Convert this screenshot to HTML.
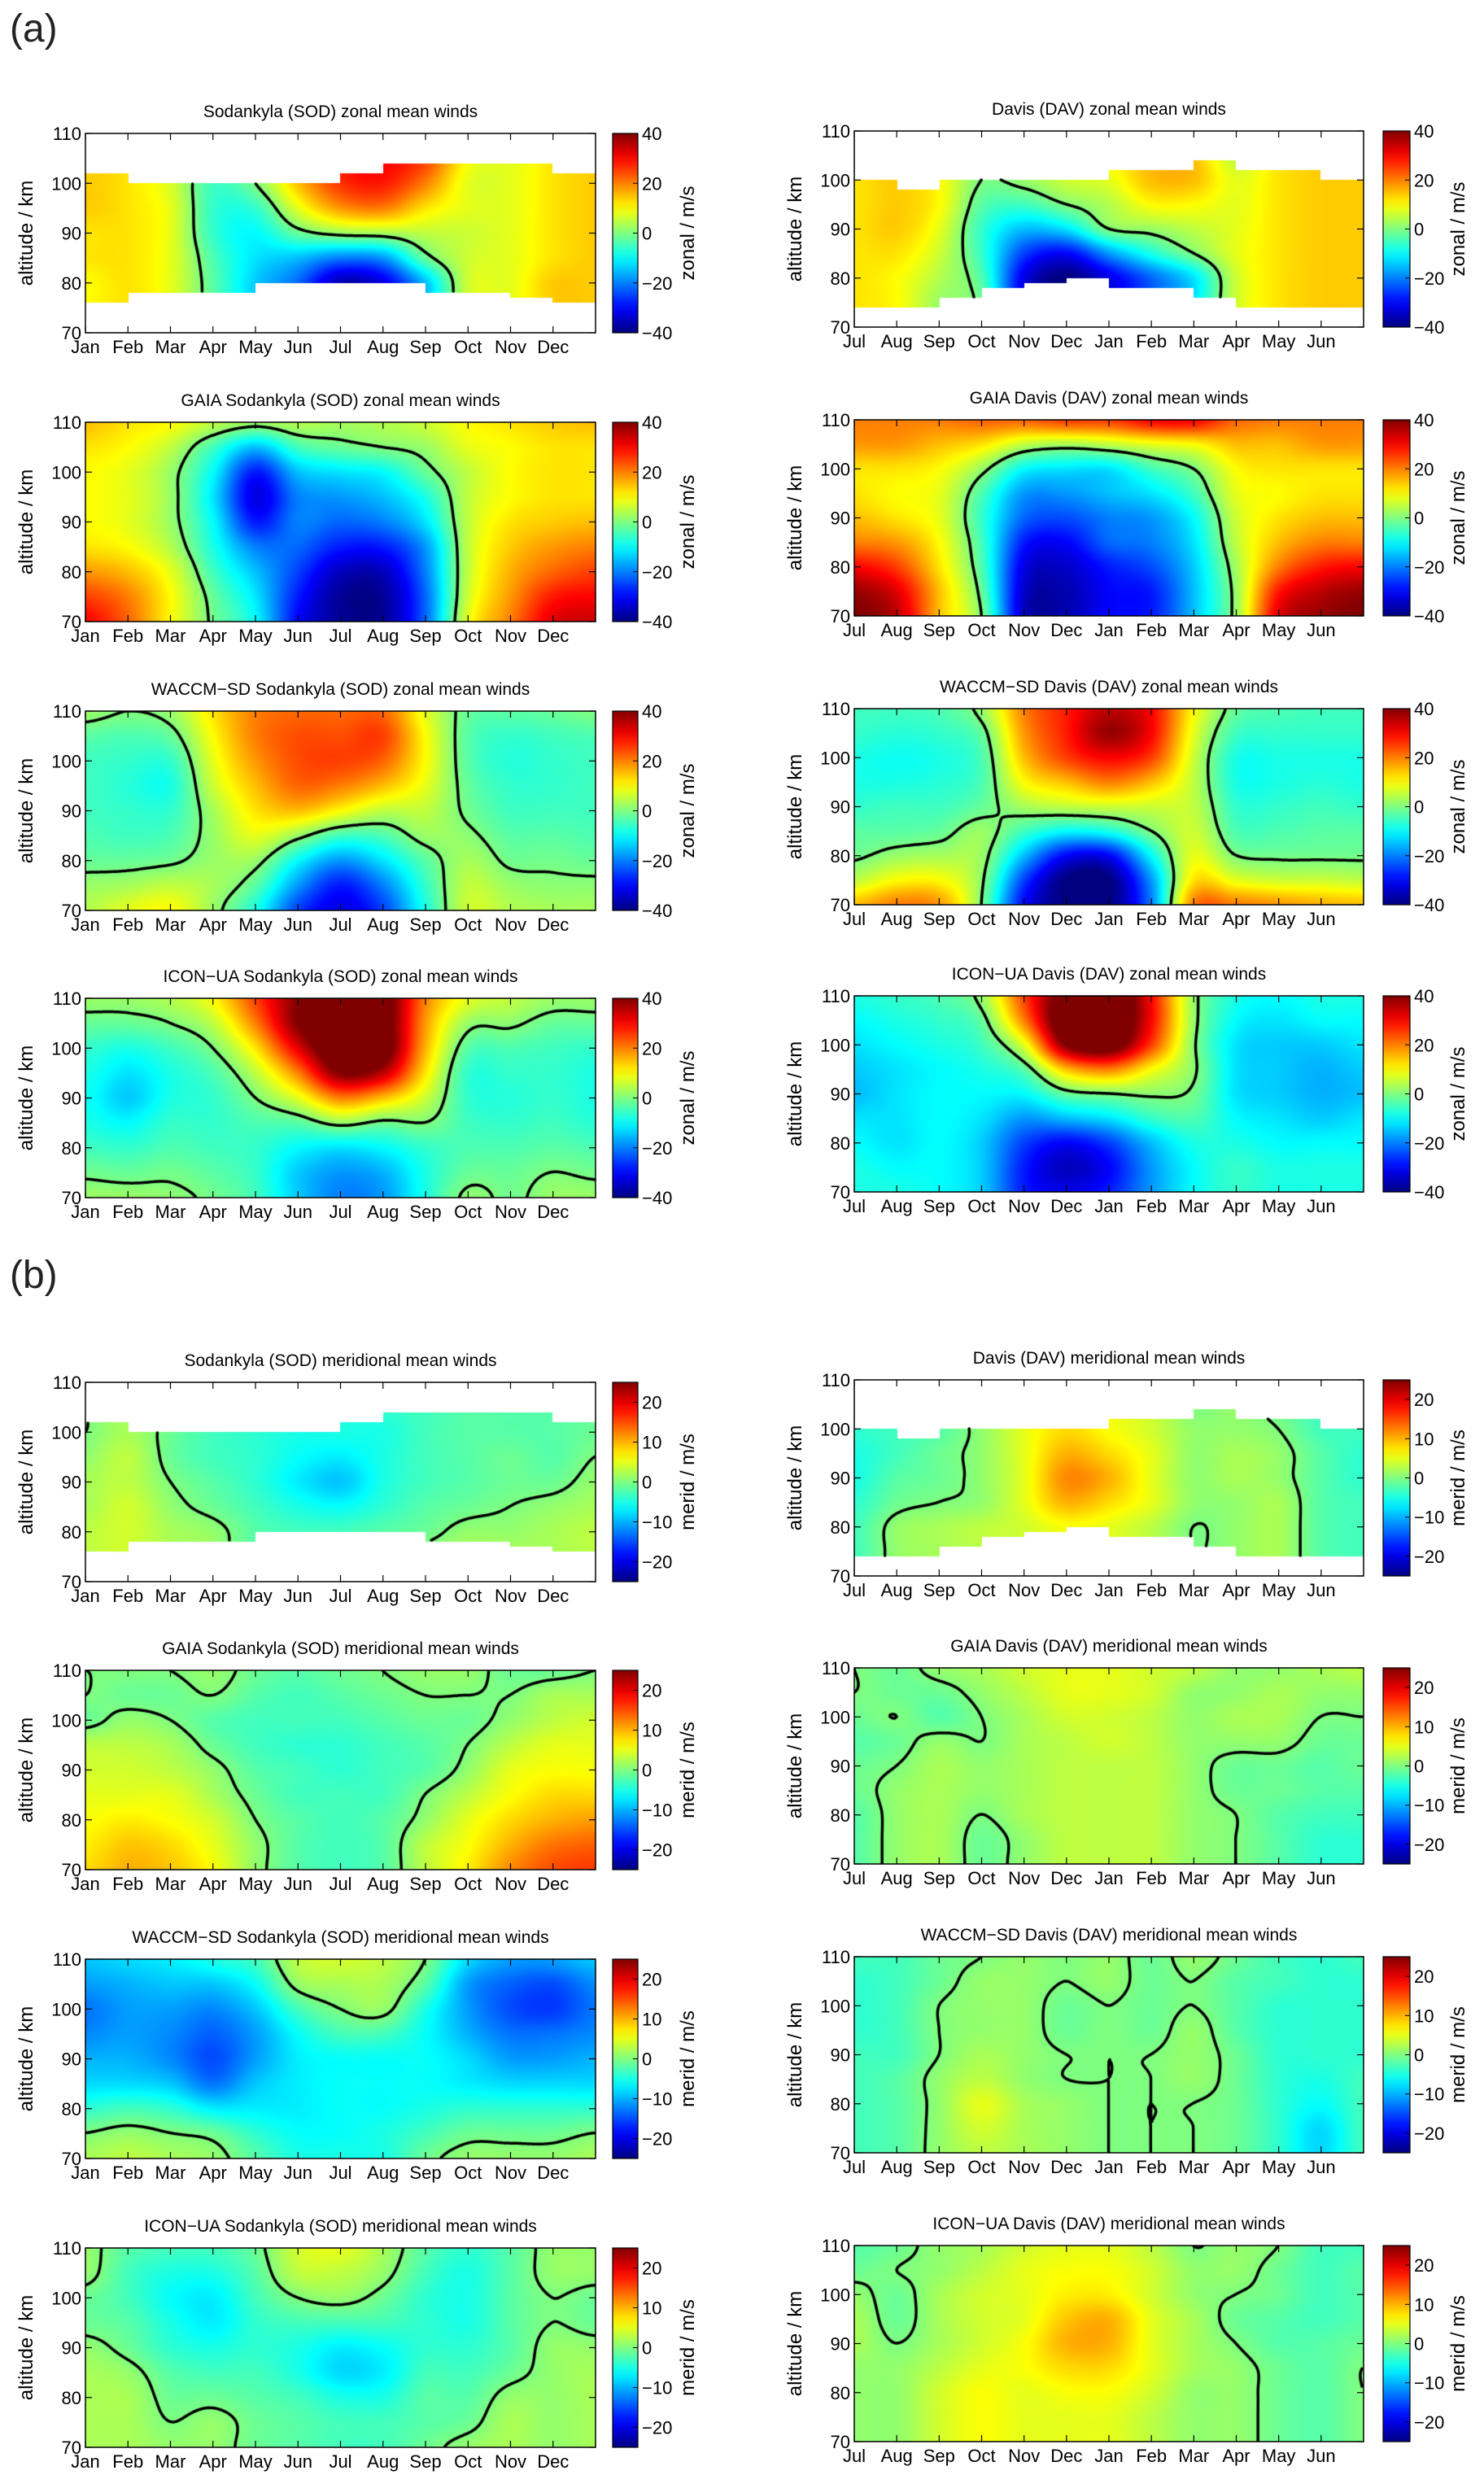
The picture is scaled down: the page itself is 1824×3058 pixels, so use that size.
<!DOCTYPE html>
<html><head><meta charset="utf-8">
<style>
html,body{margin:0;padding:0;background:#fff;}
#page{position:relative;width:1824px;height:3058px;overflow:hidden;background:#fff;font-family:"Liberation Sans",sans-serif;}
canvas{position:absolute;}
#ov{position:absolute;left:0;top:0;}
.lab{position:absolute;font-size:48px;color:#222;}
</style></head>
<body>
<div id="page">
<div class="lab" style="left:12px;top:8px">(a)</div>
<div class="lab" style="left:12px;top:1540px">(b)</div>
<svg id="ov" width="1824" height="3058" xmlns="http://www.w3.org/2000/svg"></svg>
</div>
<script>
// ---- data: columns = month boundaries (13), values top(110km) -> bottom(70km) every 5 km ----
const monthsSOD=["Jan","Feb","Mar","Apr","May","Jun","Jul","Aug","Sep","Oct","Nov","Dec"];
const monthsDAV=["Jul","Aug","Sep","Oct","Nov","Dec","Jan","Feb","Mar","Apr","May","Jun"];
const altTicks=[70,80,90,100,110];
const zonalTicks=[40,20,0,-20,-40];
const meridTicks=[20,10,0,-10,-20];

const sodZonalObs=[[14,14,14,14,12,12,10,10,10],[12,12,12,12,12,12,12,12,12],[8,8,7,8,8,8,8,8,8],[-3,-3,-5,-6,-6,-4,-3,-3,-3],[2,2,0,-6,-10,-12,-14,-14,-14],[18,18,15,8,-2,-15,-22,-22,-22],[28,28,26,18,2,-20,-36,-36,-36],[30,30,28,20,3,-18,-32,-32,-32],[25,25,20,12,5,-2,-15,-15,-15],[10,10,8,8,6,6,6,6,6],[8,8,8,8,8,8,8,8,8],[12,12,12,12,12,12,14,14,14],[14,14,14,14,14,14,14,14,14]];
const sodTop=[102,100,100,100,100,100,102,104,104,104,104,102];
const sodBot=[76,78,78,78,80,80,80,80,78,78,77,76];
const davZonalObs=[[12,12,12,12,12,12,12,12,12],[14,14,14,14,14,12,10,10,10],[10,10,10,10,8,6,4,2,2],[0,0,0,-3,-6,-6,-4,-2,-2],[5,5,2,-5,-15,-25,-32,-32,-32],[8,8,6,0,-12,-30,-40,-40,-40],[10,10,8,4,0,-18,-32,-32,-32],[15,15,15,10,2,-8,-22,-22,-22],[15,15,15,10,5,0,-12,-12,-12],[5,5,8,8,8,8,6,6,6],[12,12,12,12,12,12,12,12,12],[14,14,14,14,14,14,14,14,14],[14,14,14,14,14,14,14,14,14]];
const davTop=[100,98,100,100,100,100,102,102,104,102,102,100];
const davBot=[74,74,76,78,79,80,78,78,76,74,74,74];
const gaiaSodZonal=[[15,12,10,10,10,12,18,25,30],[12,10,8,8,8,10,15,20,22],[10,5,2,2,2,4,8,10,10],[5,-5,-10,-12,-10,-8,-5,-2,-1],[2,-15,-28,-32,-28,-20,-15,-12,-10],[4,-5,-15,-20,-20,-22,-25,-28,-30],[3,-2,-12,-18,-22,-28,-35,-38,-38],[4,0,-10,-15,-20,-28,-35,-38,-38],[6,2,-2,-8,-12,-18,-20,-22,-22],[10,8,5,5,5,5,5,6,8],[12,10,10,10,12,14,16,18,20],[14,12,12,12,14,18,22,28,32],[15,12,12,12,15,20,25,30,34]];
const gaiaDavZonal=[[20,18,12,12,15,20,30,38,40],[20,18,12,10,12,18,25,32,35],[20,15,10,8,8,10,12,15,15],[22,12,2,-4,-6,-5,-4,-2,0],[22,5,-10,-18,-22,-28,-32,-34,-35],[25,3,-12,-18,-24,-30,-34,-36,-36],[25,5,-12,-15,-20,-22,-28,-30,-30],[30,8,-5,-12,-18,-20,-24,-28,-28],[30,10,0,-5,-10,-12,-14,-15,-15],[22,15,10,8,6,5,3,2,2],[20,15,12,10,12,15,20,28,32],[20,18,12,12,15,20,28,35,38],[20,18,12,12,15,20,30,38,40]];
const waccmSodZonal=[[2,-3,-5,-5,-5,-4,-2,2,4],[0,-4,-6,-7,-6,-5,-2,3,8],[2,-2,-6,-8,-6,-4,-1,5,10],[12,10,8,6,3,2,2,3,2],[20,20,18,15,12,8,2,-3,-8],[22,24,24,22,15,2,-10,-18,-25],[22,24,25,20,10,-5,-18,-28,-32],[22,25,22,15,5,-4,-12,-20,-25],[8,10,10,8,5,2,-3,-6,-8],[-2,-3,-3,-2,-1,1,3,5,6],[-3,-6,-7,-6,-5,-3,-1,2,4],[-2,-5,-6,-6,-5,-3,-1,1,3],[0,-4,-5,-5,-5,-4,-2,1,3]];
const waccmDavZonal=[[-5,-6,-8,-8,-6,-3,-1,5,15],[-5,-7,-9,-8,-5,-3,2,10,20],[-4,-6,-8,-7,-5,-2,3,10,18],[2,-2,-4,-4,-2,2,2,1,0],[20,18,15,10,3,-5,-15,-25,-30],[28,28,25,15,5,-10,-30,-40,-40],[35,38,30,20,6,-8,-30,-40,-40],[30,30,25,15,6,0,-10,-18,-20],[10,8,6,5,5,6,8,12,20],[-2,-5,-8,-8,-6,-4,0,8,20],[-4,-6,-8,-8,-6,-4,-1,6,18],[-5,-6,-8,-7,-5,-3,-1,6,16],[-5,-6,-8,-8,-6,-3,-1,5,15]];
const iconSodZonal=[[2,-2,-6,-8,-9,-8,-5,-1,2],[2,-2,-8,-12,-14,-10,-6,-2,2],[4,0,-5,-8,-8,-6,-4,-1,1],[10,5,0,-4,-6,-6,-5,-3,-1],[25,20,12,5,0,-4,-6,-6,-5],[40,40,32,20,8,-3,-10,-14,-14],[50,50,48,40,20,2,-12,-18,-20],[45,45,45,35,15,-1,-10,-16,-18],[20,18,16,12,6,0,-6,-8,-8],[8,2,-3,-6,-6,-5,-4,-2,1],[5,1,-4,-6,-7,-6,-4,-2,-1],[2,-2,-5,-6,-6,-5,-3,0,2],[2,-2,-6,-8,-8,-7,-4,-1,2]];
const iconDavZonal=[[-8,-10,-12,-14,-15,-12,-10,-8,-8],[-6,-8,-10,-12,-12,-12,-12,-10,-8],[-4,-6,-8,-10,-10,-10,-10,-10,-10],[2,-2,-5,-8,-10,-12,-14,-14,-14],[25,20,8,-3,-10,-18,-25,-28,-28],[45,48,40,15,-2,-15,-30,-35,-32],[50,50,45,20,0,-12,-25,-30,-28],[30,30,25,10,1,-6,-15,-18,-18],[2,2,1,1,-1,-4,-8,-10,-10],[-8,-10,-12,-12,-12,-10,-8,-6,-6],[-10,-12,-14,-14,-14,-12,-10,-8,-8],[-8,-10,-14,-16,-16,-14,-10,-8,-8],[-8,-10,-12,-14,-15,-12,-10,-8,-8]];
const sodMeridObs=[[0,0,0,1,2,2,3,3,3],[2,2,2,3,3,4,4,4,4],[0,0,-1,-1,0,1,2,2,2],[-2,-2,-3,-3,-2,-1,1,1,1],[-3,-3,-4,-4,-4,-3,-2,-2,-2],[-4,-4,-5,-6,-7,-5,-3,-3,-3],[-5,-5,-5,-7,-9,-6,-3,-3,-3],[-4,-4,-5,-5,-5,-4,-2,-2,-2],[-3,-3,-3,-3,-3,-2,-1,1,1],[-2,-2,-2,-2,-2,-1,1,2,2],[-2,-2,-2,-1,-1,0,1,2,2],[-2,-2,-2,-2,-1,1,2,2,2],[-1,-1,-1,0,1,2,3,3,3]];
const davMeridObs=[[-4,-4,-4,-5,-5,-4,-3,-3,-3],[-3,-3,-3,-3,-2,-1,1,1,1],[-2,-2,-2,-1,-1,0,2,2,2],[2,2,1,1,1,1,3,3,3],[5,5,5,5,5,5,4,4,4],[8,8,8,10,12,10,6,5,5],[6,6,6,8,10,8,5,5,5],[4,4,4,5,5,5,3,3,3],[0,0,1,1,1,1,0,0,0],[1,1,1,2,2,1,1,1,1],[-1,-1,0,1,1,2,2,2,2],[-3,-3,-3,-2,-2,-2,-2,-2,-2],[-3,-3,-3,-4,-4,-3,-3,-3,-3]];
const gaiaSodMerid=[[0,0,-1,3,4,5,6,7,8],[0,-1,1,3,4,5,7,9,10],[0,-1,0,2,3,5,6,8,9],[1,0,-2,-1,1,2,4,5,6],[-1,-2,-3,-3,-2,-1,0,1,1],[-2,-3,-3,-4,-3,-3,-2,-2,-2],[-1,-2,-3,-4,-4,-3,-3,-3,-3],[0,-1,-2,-3,-3,-3,-2,-2,-2],[1,0,-1,-2,-2,0,1,3,3],[1,0,-1,0,1,3,5,6,7],[-1,0,1,3,5,6,8,10,12],[-1,2,3,5,6,8,10,13,15],[0,2,4,5,6,8,11,14,16]];
const gaiaDavMerid=[[0,0,-1,-2,-1,-1,-2,-2,-2],[-1,-1,0,-1,0,1,1,1,1],[1,-1,-2,1,2,2,2,2,2],[2,1,0,0,1,1,0,-1,-1],[4,3,2,2,2,2,2,1,1],[5,5,4,3,3,3,3,3,3],[5,5,4,4,3,3,3,3,3],[4,4,3,3,3,3,3,3,3],[3,1,1,1,1,1,1,1,1],[1,1,2,1,-1,-1,0,0,0],[1,2,2,1,-1,-1,-2,-2,-2],[2,1,0,-1,-2,-2,-3,-4,-4],[3,1,0,-1,-1,-2,-3,-4,-4]];
const waccmSodMerid=[[-9,-11,-13,-12,-10,-8,-4,0,2],[-8,-10,-11,-11,-10,-8,-3,1,3],[-7,-9,-11,-12,-12,-9,-4,0,2],[-5,-9,-12,-14,-15,-13,-7,-1,1],[-3,-6,-9,-11,-11,-9,-7,-4,-2],[3,1,-3,-6,-7,-7,-7,-6,-5],[4,2,0,-3,-6,-6,-6,-6,-5],[3,2,1,-3,-6,-6,-6,-5,-5],[0,-2,-5,-6,-6,-6,-5,-3,-1],[-8,-11,-11,-10,-8,-7,-4,-1,1],[-11,-14,-15,-13,-11,-8,-4,-1,1],[-11,-15,-16,-13,-11,-8,-4,-1,1],[-9,-12,-13,-12,-10,-8,-4,0,2]];
const waccmDavMerid=[[-3,-4,-4,-4,-3,-3,-3,-3,-3],[-3,-3,-3,-3,-3,-2,-2,-2,-2],[-1,-1,0,0,0,1,1,1,1],[0,1,1,1,2,3,5,4,3],[1,1,1,1,1,1,2,2,2],[0,0,-1,-1,0,0,1,1,1],[1,1,0,0,0,0,0,0,0],[-1,-1,-1,-1,0,0,0,0,0],[1,0,0,1,1,1,0,0,0],[-1,-2,-2,-2,-1,-1,-1,-1,-1],[-3,-3,-4,-4,-4,-4,-4,-4,-4],[-4,-4,-4,-4,-4,-5,-6,-8,-8],[-3,-4,-4,-4,-4,-3,-3,-3,-3]];
const iconSodMerid=[[1,1,-1,-1,1,2,2,2,2],[-2,-3,-3,-2,-1,1,2,2,2],[-3,-5,-6,-5,-4,-2,-1,0,1],[-3,-5,-7,-7,-5,-3,-1,1,1],[-1,-2,-3,-4,-4,-3,-2,-1,-1],[4,3,0,-3,-5,-5,-3,-2,-2],[5,3,1,-3,-7,-8,-5,-3,-3],[2,1,-1,-3,-6,-7,-5,-3,-3],[-2,-3,-4,-4,-4,-3,-2,-2,-1],[-4,-5,-5,-5,-4,-3,-2,-1,1],[-2,-2,-2,-2,-2,-1,1,2,2],[1,1,0,0,1,1,1,1,1],[1,1,-1,-1,1,2,2,2,2]];
const iconDavMerid=[[-2,-1,1,2,2,1,1,1,1],[-1,0,-1,-1,0,1,1,1,1],[1,1,2,2,2,3,4,4,4],[2,3,4,4,4,5,6,6,6],[4,5,5,5,6,6,5,5,5],[5,6,7,9,10,8,6,5,5],[5,6,7,10,10,8,6,5,5],[3,4,4,5,5,5,4,3,3],[0,1,1,2,2,2,1,1,1],[1,1,0,-1,0,1,1,1,1],[0,-1,-1,-2,-2,-1,-1,-1,-1],[-3,-3,-3,-3,-2,-2,-2,-2,-2],[-3,-2,-2,-2,-1,0,0,0,0]];

const leftTops=[164,519,874,1227,1699,2053,2408,2763];
const panels=[
 {g:sodZonalObs,t:"Sodankyla (SOD) zonal mean winds",side:0,row:0,z:1,top:sodTop,bot:sodBot,n:"sod-zonal-obs"},
 {g:davZonalObs,t:"Davis (DAV) zonal mean winds",side:1,row:0,z:1,top:davTop,bot:davBot,n:"dav-zonal-obs"},
 {g:gaiaSodZonal,t:"GAIA Sodankyla (SOD) zonal mean winds",side:0,row:1,z:1,n:"gaia-sod-zonal"},
 {g:gaiaDavZonal,t:"GAIA Davis (DAV) zonal mean winds",side:1,row:1,z:1,n:"gaia-dav-zonal"},
 {g:waccmSodZonal,t:"WACCM\u2212SD Sodankyla (SOD) zonal mean winds",side:0,row:2,z:1,n:"waccm-sod-zonal"},
 {g:waccmDavZonal,t:"WACCM\u2212SD Davis (DAV) zonal mean winds",side:1,row:2,z:1,n:"waccm-dav-zonal"},
 {g:iconSodZonal,t:"ICON\u2212UA Sodankyla (SOD) zonal mean winds",side:0,row:3,z:1,n:"icon-sod-zonal"},
 {g:iconDavZonal,t:"ICON\u2212UA Davis (DAV) zonal mean winds",side:1,row:3,z:1,n:"icon-dav-zonal"},
 {g:sodMeridObs,t:"Sodankyla (SOD) meridional mean winds",side:0,row:4,z:0,top:sodTop,bot:sodBot,n:"sod-merid-obs"},
 {g:davMeridObs,t:"Davis (DAV) meridional mean winds",side:1,row:4,z:0,top:davTop,bot:davBot,n:"dav-merid-obs"},
 {g:gaiaSodMerid,t:"GAIA Sodankyla (SOD) meridional mean winds",side:0,row:5,z:0,n:"gaia-sod-merid"},
 {g:gaiaDavMerid,t:"GAIA Davis (DAV) meridional mean winds",side:1,row:5,z:0,n:"gaia-dav-merid"},
 {g:waccmSodMerid,t:"WACCM\u2212SD Sodankyla (SOD) meridional mean winds",side:0,row:6,z:0,n:"waccm-sod-merid"},
 {g:waccmDavMerid,t:"WACCM\u2212SD Davis (DAV) meridional mean winds",side:1,row:6,z:0,n:"waccm-dav-merid"},
 {g:iconSodMerid,t:"ICON\u2212UA Sodankyla (SOD) meridional mean winds",side:0,row:7,z:0,n:"icon-sod-merid"},
 {g:iconDavMerid,t:"ICON\u2212UA Davis (DAV) meridional mean winds",side:1,row:7,z:0,n:"icon-dav-merid"}
];

function jet(t){t=Math.max(0,Math.min(1,t));const c=v=>Math.round(255*Math.max(0,Math.min(1,v)));
 return [c(1.5-Math.abs(4*t-3)),c(1.5-Math.abs(4*t-2)),c(1.5-Math.abs(4*t-1))];}
function cr(p0,p1,p2,p3,t){return 0.5*(2*p1+(-p0+p2)*t+(2*p0-5*p1+4*p2-p3)*t*t+(-p0+3*p1-3*p2+p3)*t*t*t);}
function sample(g,cx,ry){
 const nc=g.length,nr=g[0].length;
 let i=Math.min(Math.floor(cx),nc-2),j=Math.min(Math.floor(ry),nr-2);
 const tx=cx-i,ty=ry-j,col=[];
 for(let m=-1;m<=2;m++){const ci=Math.max(0,Math.min(nc-1,i+m));const a=g[ci];
  const r=k=>a[Math.max(0,Math.min(nr-1,k))];
  col.push(cr(r(j-1),r(j),r(j+1),r(j+2),ty));}
 return cr(col[0],col[1],col[2],col[3],tx);
}
const NS="http://www.w3.org/2000/svg";
const svg=document.getElementById('ov');
const page=document.getElementById('page');
function el(tag,attrs,txt){const e=document.createElementNS(NS,tag);for(const k in attrs)e.setAttribute(k,attrs[k]);if(txt!==undefined)e.textContent=txt;svg.appendChild(e);return e;}

const defs=el('defs',{});
const grad=document.createElementNS(NS,'linearGradient');
grad.setAttribute('id','jetg');grad.setAttribute('x1','0');grad.setAttribute('y1','1');grad.setAttribute('x2','0');grad.setAttribute('y2','0');
for(let s=0;s<=20;s++){const c=jet(s/20);const st=document.createElementNS(NS,'stop');st.setAttribute('offset',s/20);st.setAttribute('stop-color',`rgb(${c})`);grad.appendChild(st);}
defs.appendChild(grad);

panels.forEach(p=>{
 const x0=p.side?1050:105, w=p.side?626:627;
 const y0=leftTops[p.row]-(p.side?3:0), h=p.side?241:245;
 const vmax=p.z?40:25;
 const cv=document.createElement('canvas');
 cv.width=w;cv.height=h;cv.style.left=x0+'px';cv.style.top=y0+'px';
 
 
 page.insertBefore(cv,svg);
 const ctx=cv.getContext('2d');const img=ctx.createImageData(w,h);
 const inside=(cx,alt)=>{if(!p.top)return true;const s=Math.max(0,Math.min(11,Math.floor(cx)));return alt<=p.top[s]&&alt>=p.bot[s];};
 for(let py=0;py<h;py++){const ry=py/(h-1)*8, alt=110-py/(h-1)*40;
  for(let px=0;px<w;px++){const cx=px/(w-1)*12;const k=(py*w+px)*4;
   if(!inside(cx,alt)){img.data[k]=img.data[k+1]=img.data[k+2]=255;img.data[k+3]=255;continue;}
   let v=sample(p.g,cx,ry);const c=jet((v+vmax)/(2*vmax));
   img.data[k]=c[0];img.data[k+1]=c[1];img.data[k+2]=c[2];img.data[k+3]=255;}}
 ctx.putImageData(img,0,0);
 const st=2,nx=Math.floor((w-1)/st)+1,ny=Math.floor((h-1)/st)+1,V=[];
 for(let j=0;j<ny;j++){V.push([]);for(let i=0;i<nx;i++){const px=i*st,py=j*st;V[j].push(sample(p.g,px/(w-1)*12,py/(h-1)*8));}}
 ctx.strokeStyle='#000';ctx.lineWidth=3.5;ctx.lineCap='round';ctx.beginPath();
 for(let j=0;j<ny-1;j++)for(let i=0;i<nx-1;i++){
  const X=i*st,Y=j*st;
  if(!inside(X/(w-1)*12,110-Y/(h-1)*40)||!inside((X+st)/(w-1)*12,110-(Y+st)/(h-1)*40))continue;
  const tl=V[j][i],tr=V[j][i+1],br=V[j+1][i+1],bl=V[j+1][i];
  const idx=(tl>0?8:0)|(tr>0?4:0)|(br>0?2:0)|(bl>0?1:0);
  if(idx===0||idx===15)continue;
  const E=[[X+st*tl/(tl-tr),Y],[X+st,Y+st*tr/(tr-br)],[X+st*bl/(bl-br),Y+st],[X,Y+st*tl/(tl-bl)]];
  const T={1:[[3,2]],2:[[2,1]],3:[[3,1]],4:[[0,1]],5:[[3,0],[2,1]],6:[[0,2]],7:[[3,0]],8:[[3,0]],9:[[0,2]],10:[[0,1],[3,2]],11:[[0,1]],12:[[3,1]],13:[[2,1]],14:[[3,2]]}[idx];
  T.forEach(s=>{ctx.moveTo(E[s[0]][0],E[s[0]][1]);ctx.lineTo(E[s[1]][0],E[s[1]][1]);});
 }
 ctx.stroke();

 const fr=el('rect',{x:x0,y:y0,width:w,height:h,fill:'none',stroke:'#000','stroke-width':1.5});
 
 
 const ti=el('text',{x:x0+w/2,y:y0-20,'text-anchor':'middle','font-size':21,'font-family':'Liberation Sans, sans-serif'},p.t);
 
 
 const months=p.side?monthsDAV:monthsSOD;
 months.forEach((m,i)=>{const x=x0+i*w/12;
  el('line',{x1:x,x2:x,y1:y0,y2:y0+8,stroke:'#000','stroke-width':1.2});
  el('line',{x1:x,x2:x,y1:y0+h,y2:y0+h-8,stroke:'#000','stroke-width':1.2});
  const t=el('text',{x:x,y:y0+h+25,'text-anchor':'middle','font-size':22,'font-family':'Liberation Sans, sans-serif'},m);
  
  
 });
 altTicks.forEach(a=>{const y=y0+h-(a-70)/40*h;
  el('line',{x1:x0,x2:x0+8,y1:y,y2:y,stroke:'#000','stroke-width':1.2});
  el('line',{x1:x0+w,x2:x0+w-8,y1:y,y2:y,stroke:'#000','stroke-width':1.2});
  const t=el('text',{x:x0-5,y:y+8,'text-anchor':'end','font-size':22,'font-family':'Liberation Sans, sans-serif'},a);
  
  
 });
 const yl=x0-65, ym=y0+h/2;
 const yt=el('text',{x:yl,y:ym,'text-anchor':'middle','font-size':24,'font-family':'Liberation Sans, sans-serif',transform:`rotate(-90 ${yl} ${ym})`},'altitude / km');
 
 
 const cbx=p.side?1700:753, cbw=p.side?33:31;
 const cb=el('rect',{x:cbx,y:y0,width:cbw,height:h,fill:'url(#jetg)',stroke:'#000','stroke-width':1.2});
 
 
 (p.z?zonalTicks:meridTicks).forEach(v=>{const y=y0+h/2-v/vmax*h/2;
  el('line',{x1:cbx+cbw-6,x2:cbx+cbw,y1:y,y2:y,stroke:'#000','stroke-width':1});
  const t=el('text',{x:cbx+cbw+5,y:y+8,'font-size':22,'font-family':'Liberation Sans, sans-serif'},String(v).replace('-','\u2212'));
  
  
 });
 const cl=cbx+100;
 const ct=el('text',{x:cl,y:ym,'text-anchor':'middle','font-size':24,'font-family':'Liberation Sans, sans-serif',transform:`rotate(-90 ${cl} ${ym})`},p.z?'zonal / m/s':'merid / m/s');
 
 
});
</script>
</body></html>
